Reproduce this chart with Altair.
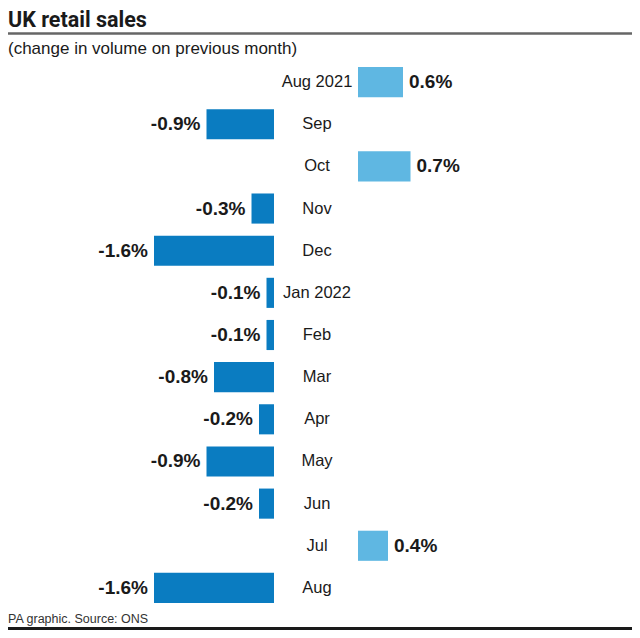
import altair as alt
import pandas as pd

months = ["Aug 2021", "Sep", "Oct", "Nov", "Dec", "Jan 2022", "Feb", "Mar",
          "Apr", "May", "Jun", "Jul", "Aug"]
values = [0.6, -0.9, 0.7, -0.3, -1.6, -0.1, -0.1, -0.8, -0.2, -0.9, -0.2, 0.4, -1.6]
labels = [f"{v:.1f}%" for v in values]

title_text = "UK retail sales"
subtitle_text = "(change in volume on previous month)"
footer_text = "PA graphic. Source: ONS"

df = pd.DataFrame({"month": months, "value": values, "label": labels})

W, H = 624, 622
ZERO_PX = 266
PX_PER = 75.0
GAP = 84

xscale = alt.Scale(domain=[-ZERO_PX / PX_PER, (W - ZERO_PX) / PX_PER], nice=False, zero=False)
yscale = alt.Scale(range=[53, 601], paddingInner=0.2857, paddingOuter=0.1429)

FONT = "Liberation Sans"

base = alt.Chart(df).encode(
    y=alt.Y("month:N", sort=months, scale=yscale, axis=None)
)

neg = base.transform_filter("datum.value < 0").mark_bar(color="#0a7cc1").encode(
    x=alt.X("value:Q", scale=xscale, axis=None)
)
pos = base.transform_filter("datum.value > 0").mark_bar(color="#5fb7e2", xOffset=GAP).encode(
    x=alt.X("value:Q", scale=xscale, axis=None)
)
month_txt = base.mark_text(align="center", baseline="middle", xOffset=43, font=FONT,
                           fontSize=16.5, color="#1a1a1a").encode(
    x=alt.X("zero:Q", scale=xscale, axis=None),
    text="month:N"
).transform_calculate(zero="0")

neg_txt = base.transform_filter("datum.value < 0").mark_text(
    align="right", baseline="middle", dx=-6, font=FONT, fontSize=19, fontWeight="bold",
    color="#1a1a1a").encode(
    x=alt.X("value:Q", scale=xscale, axis=None), text="label:N")
pos_txt = base.transform_filter("datum.value > 0").mark_text(
    align="left", baseline="middle", dx=6, xOffset=GAP, font=FONT, fontSize=19,
    fontWeight="bold", color="#1a1a1a").encode(
    x=alt.X("value:Q", scale=xscale, axis=None), text="label:N")

one = pd.DataFrame({"t": [0]})
title = alt.Chart(pd.DataFrame({"t": [title_text]})).mark_text(
    align="left", baseline="top", font="Roboto", fontSize=21.5, fontWeight="bold",
    color="#1a1a1a").encode(x=alt.value(0), y=alt.value(2), text="t:N")
subtitle = alt.Chart(pd.DataFrame({"t": [subtitle_text]})).mark_text(
    align="left", baseline="alphabetic", font=FONT, fontSize=17, color="#1a1a1a"
    ).encode(x=alt.value(0), y=alt.value(46), text="t:N")
footer = alt.Chart(pd.DataFrame({"t": [footer_text]})).mark_text(
    align="left", baseline="alphabetic", font=FONT, fontSize=12.5, color="#333333"
    ).encode(x=alt.value(0), y=alt.value(615), text="t:N")
top_rule = alt.Chart(one).mark_rule(color="#666666", strokeWidth=2.5).encode(
    x=alt.value(0), x2=alt.value(W), y=alt.value(25.5))
bottom_rule = alt.Chart(one).mark_rule(color="#1a1a1a", strokeWidth=3).encode(
    x=alt.value(0), x2=alt.value(W), y=alt.value(620.5))

chart = alt.layer(neg, pos, month_txt, neg_txt, pos_txt, title, subtitle, footer,
                  top_rule, bottom_rule).properties(
    width=W, height=H, autosize=alt.AutoSizeParams(type="none"), padding=0,
    background="white"
).configure_view(stroke=None)

chart.save("out.html", embed_options={"renderer": "svg", "actions": False})
